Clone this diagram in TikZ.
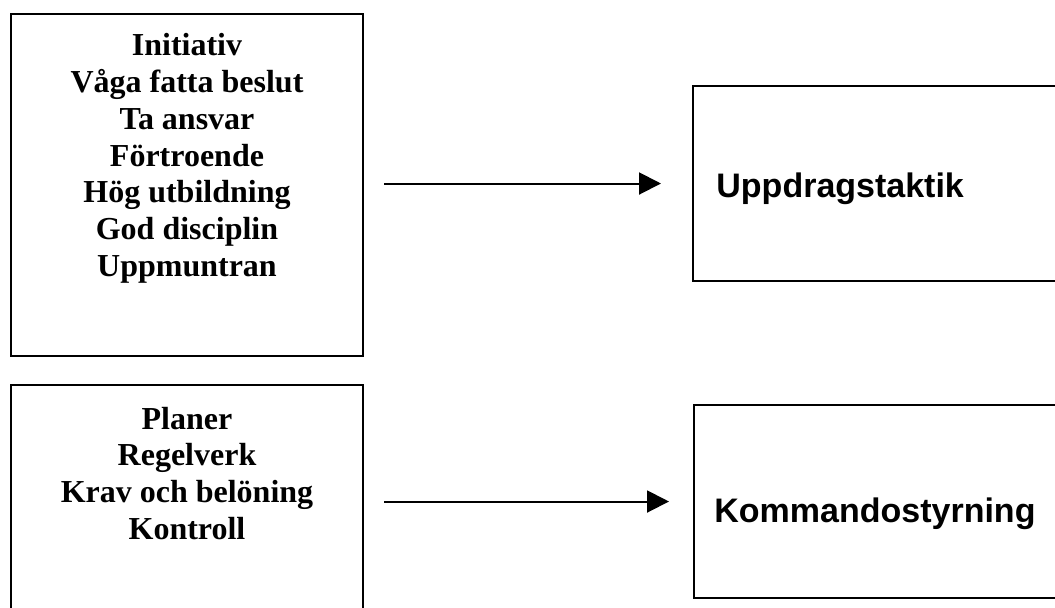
\documentclass[tikz,border=0pt]{standalone}
\usepackage{fontspec}
\setmainfont{Liberation Serif}
\newfontfamily\arialfont{Liberation Sans}
\usetikzlibrary{positioning,arrows.meta,calc}
\tikzset{
  trait/.style    = {draw=black, line width=1pt, inner sep=0pt},
  doctrine/.style = {draw=black, line width=1pt, inner sep=0pt},
  traittext/.style = {font=\fontsize{16}{18.4}\selectfont\bfseries,
                      align=center, inner sep=0pt},
  doctext/.style  = {font=\arialfont\fontsize{17}{20}\selectfont\bfseries, inner sep=0pt},
  flow/.style     = {-{Triangle[length=11pt, width=11pt]}, line width=1pt},
}

\begin{document}
\begin{tikzpicture}[x=0.5pt, y=-0.5pt]
\useasboundingbox (0,0) rectangle (1055,607);
\clip (0,0) rectangle (1055,607);

\node[trait, minimum width=176pt, minimum height=171pt] (egen) at (187,185) {};
\node[doctrine, minimum width=191pt, minimum height=97.5pt] (uppdrag) at (884,183.5) {};
\node[trait, minimum width=176pt, minimum height=122.5pt] (plan) at (187,507.5) {};
\node[doctrine, minimum width=190.5pt, minimum height=96.5pt] (kommando) at (884.5,501.5) {};

\node[traittext, below=10pt of egen.north] (egentext)
  {Initiativ\\Våga fatta beslut\\Ta ansvar\\Förtroende\\Hög utbildning\\God disciplin\\Uppmuntran};
\node[traittext, below=11.25pt of plan.north] (plantext)
  {Planer\\Regelverk\\Krav och belöning\\Kontroll};

\node[doctext, anchor=base west] (uppdragtext) at ($(uppdrag.west)+(24,14)$) {Uppdragstaktik};
\node[doctext, anchor=base west] (kommandotext) at ($(kommando.west)+(21,20.5)$) {Kommandostyrning};

\draw[flow, shorten <=10pt, shorten >=15.5pt] (egen.east |- uppdrag.west) -- (uppdrag.west);
\draw[flow, shorten <=10pt, shorten >=12pt] (plan.east |- kommando.west) -- (kommando.west);

\end{tikzpicture}
\end{document}
